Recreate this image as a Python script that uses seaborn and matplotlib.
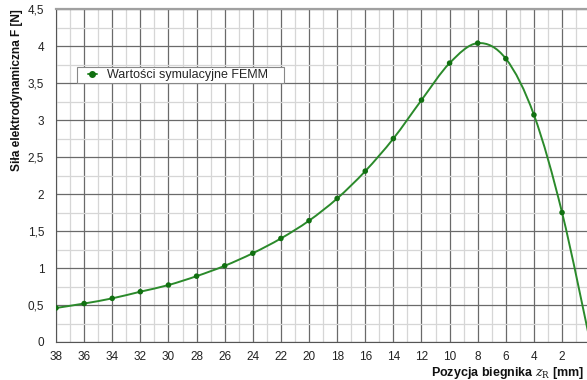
import matplotlib
matplotlib.use("Agg")
import matplotlib.pyplot as plt
from matplotlib.path import Path
from matplotlib.patches import PathPatch
from matplotlib.ticker import MultipleLocator, FuncFormatter
from matplotlib.lines import Line2D
from matplotlib.legend_handler import HandlerLine2D
import numpy as np
import pandas as pd
import seaborn as sns

# Force acting on the armature vs. armature position (FEMM simulation)
position_mm = [38, 36, 34, 32, 30, 28, 26, 24, 22, 20, 18, 16, 14, 12, 10, 8, 6, 4, 2, 0]
force_N = [0.46, 0.52, 0.59, 0.68, 0.77, 0.89, 1.03, 1.20, 1.40, 1.64,
           1.94, 2.31, 2.75, 3.27, 3.77, 4.04, 3.83, 3.07, 1.75, 0.0]

series_label = "Wartości symulacyjne FEMM"
x_title = r"Pozycja biegnika $z_\mathrm{R}$ [mm]"
y_title = "Siła elektrodynamiczna F [N]"

df = pd.DataFrame({"z": position_mm, "F": force_N})

sns.set_style("white")
plt.rcParams["font.family"] = ["Liberation Sans", "DejaVu Sans"]
plt.rcParams["mathtext.fontset"] = "dejavuserif"

green_line = "#2b8a2b"
green_dot = "#117011"

fig = plt.figure(figsize=(5.87, 3.80), dpi=100)
ax = fig.add_axes([0.0954, 0.10, 0.91, 0.876])

# smooth curve through the points (Catmull-Rom as cubic Bezier segments)
pts = df[["z", "F"]].to_numpy(dtype=float)
verts = [tuple(pts[0])]
codes = [Path.MOVETO]
n = len(pts)
for i in range(n - 1):
    p0 = pts[i - 1] if i > 0 else pts[i]
    p1 = pts[i]
    p2 = pts[i + 1]
    p3 = pts[i + 2] if i + 2 < n else pts[i + 1]
    c1 = p1 + (p2 - p0) / 6.0
    c2 = p2 - (p3 - p1) / 6.0
    verts += [tuple(c1), tuple(c2), tuple(p2)]
    codes += [Path.CURVE4] * 3
ax.add_patch(PathPatch(Path(verts, codes), facecolor="none",
                       edgecolor=green_line, lw=1.4, zorder=3))

sns.scatterplot(data=df, x="z", y="F", ax=ax, color=green_dot, s=16,
                edgecolor="none", zorder=4, legend=False, clip_on=True)

ax.set_xlim(38, 0)
ax.set_ylim(0, 4.5)
ax.xaxis.set_major_locator(MultipleLocator(2))
ax.xaxis.set_minor_locator(MultipleLocator(1))
ax.yaxis.set_major_locator(MultipleLocator(0.5))
ax.yaxis.set_minor_locator(MultipleLocator(0.25))

def comma_fmt(v, pos):
    s = f"{v:g}"
    return s.replace(".", ",")

ax.yaxis.set_major_formatter(FuncFormatter(comma_fmt))
ax.xaxis.set_major_formatter(FuncFormatter(lambda v, p: "" if v < 1 else f"{v:g}"))

ax.grid(which="major", color="#6a6a6a", lw=0.9, zorder=1)
ax.grid(which="minor", color="#d6d6d6", lw=0.9, zorder=0)
ax.set_axisbelow(True)

ax.spines["right"].set_visible(False)
ax.spines["top"].set_color("#a0a0a0")
ax.spines["top"].set_linewidth(1.6)
ax.spines["left"].set_color("#555555")
ax.spines["bottom"].set_color("#555555")

ax.tick_params(axis="both", which="both", length=2.5, width=0.8,
               color="#777777", labelsize=8.5, labelcolor="#222222")
ax.tick_params(axis="x", pad=4)
ax.tick_params(axis="y", pad=6)

ax.set_xlabel(x_title, fontsize=9, fontweight="bold", color="#111111")
ax.xaxis.set_label_coords(0.988, -0.069)
ax.xaxis.label.set_ha("right")
ax.set_ylabel(y_title, fontsize=8.6, fontweight="bold", color="#111111")
ax.yaxis.set_label_coords(-0.061, 0.757)


class ShortLineHandler(HandlerLine2D):
    """Legend handle with a short line centred on the marker."""

    def create_artists(self, legend, orig_handle, xdescent, ydescent,
                       width, height, fontsize, trans):
        artists = super().create_artists(legend, orig_handle, xdescent,
                                         ydescent, width, height, fontsize, trans)
        for a in artists:
            xd = np.asarray(a.get_xdata(), dtype=float)
            c = xd.mean()
            a.set_xdata(c + (xd - c) * 0.36)
        return artists


handle = Line2D([], [], color=green_line, lw=1.4, marker="o", markersize=4,
                markerfacecolor=green_dot, markeredgecolor=green_dot)
leg = ax.legend([handle], [series_label + "    "], loc="upper left",
                bbox_to_anchor=(0.039, 0.826), fontsize=9, frameon=True,
                fancybox=False, edgecolor="#888888", framealpha=1,
                handlelength=2.2, borderpad=0.15, handletextpad=0.1,
                borderaxespad=0, handler_map={Line2D: ShortLineHandler()})
leg.get_frame().set_linewidth(0.8)

fig.savefig("out.png", dpi=100)
